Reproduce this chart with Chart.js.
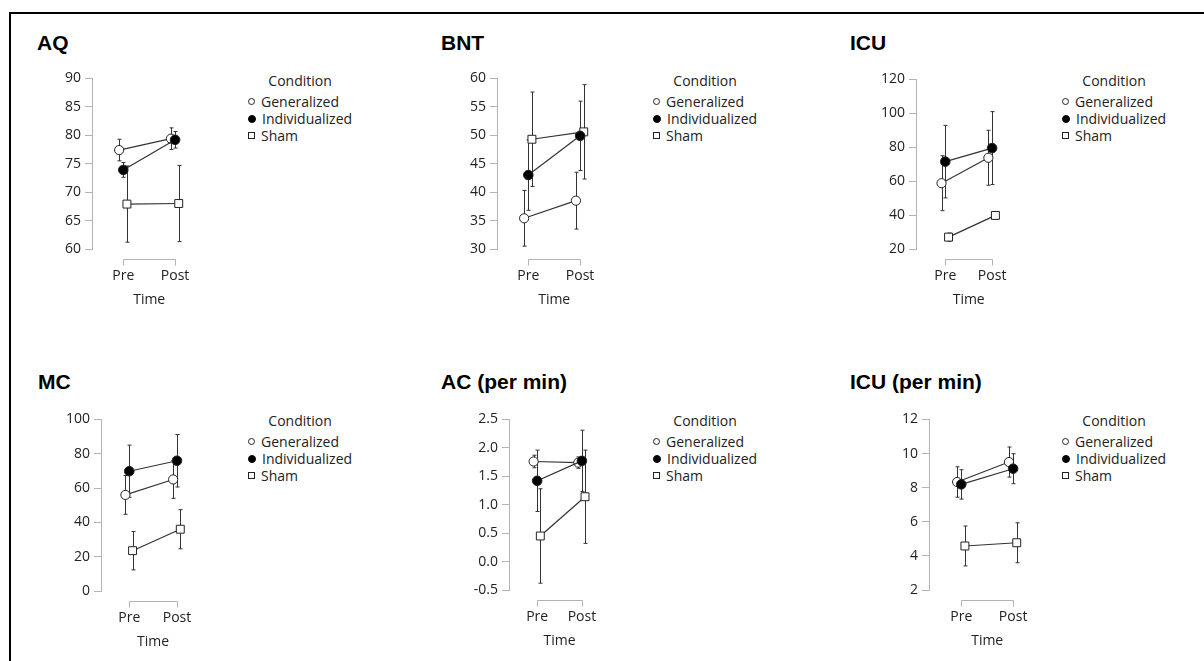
<!DOCTYPE html>
<html lang="en">
<head>
<meta charset="UTF-8">
<title>Condition by Time</title>
<script src="https://cdn.jsdelivr.net/npm/chart.js"></script>
<style>
    html, body {
        margin: 0;
        padding: 0;
        width: 1204px;
        height: 661px;
        overflow: hidden;
        background: #fff;
        font-family: 'Open Sans', sans-serif;
        color: #222;
    }
    .frame {
        position: absolute;
        left: 9px;
        top: 12px;
        width: 1400px;
        height: 900px;
        border-left: 2px solid #000;
        border-top: 2px solid #000;
    }
    .panel { position: absolute; }
    .ptitle {
        position: absolute;
        font: bold 21px 'Liberation Sans', Arial, sans-serif;
        line-height: 21px;
        color: #000;
        white-space: nowrap;
    }
    .legend {
        position: absolute;
        font-size: 14px;
        line-height: 17px;
        color: #222;
        white-space: nowrap;
    }
    .legend .ttl { text-align: center; margin-bottom: 4px; }
    .legend .row { display: flex; align-items: center; height: 17px; }
    .legend .mk {
        width: 7px;
        height: 7px;
        box-sizing: border-box;
        border: 1px solid #222;
        background: #fff;
        margin-right: 6px;
    }
    .legend .circ { border-radius: 50%; }
    .legend .fill { background: #000; border-color: #000; width: 8px; height: 8px; }
</style>
</head>
<body>
<div class="frame"></div>

<script>
    // ---- data ----
    const timeLabels = ["Pre", "Post"];
    const conditions = ["Generalized", "Individualized", "Sham"];

    // means / error half-widths per condition, order: Generalized, Individualized, Sham
    const aqMeans = [[77.4, 79.4], [73.9, 79.2], [67.9, 68.0]];
    const aqErrs  = [[1.9, 1.9], [1.3, 1.45], [6.7, 6.7]];
    const aqTicks = [60, 65, 70, 75, 80, 85, 90];

    const bntMeans = [[35.4, 38.5], [43.0, 49.9], [49.3, 50.6]];
    const bntErrs  = [[4.9, 5.0], [6.2, 6.1], [8.3, 8.3]];
    const bntTicks = [30, 35, 40, 45, 50, 55, 60];

    const icuMeans = [[58.8, 73.8], [71.5, 79.5], [27.0, 39.8]];
    const icuErrs  = [[16.2, 16.2], [21.4, 21.5], [2.4, 2.3]];
    const icuTicks = [20, 40, 60, 80, 100, 120];

    const mcMeans = [[56.0, 65.0], [69.8, 75.9], [23.5, 36.0]];
    const mcErrs  = [[11.3, 11.0], [15.2, 15.3], [11.2, 11.4]];
    const mcTicks = [0, 20, 40, 60, 80, 100];

    const acMeans = [[1.76, 1.74], [1.42, 1.77], [0.45, 1.14]];
    const acErrs  = [[0.11, 0.10], [0.54, 0.54], [0.83, 0.82]];
    const acTicks = [-0.5, 0, 0.5, 1.0, 1.5, 2.0, 2.5];

    const icupmMeans = [[8.33, 9.50], [8.19, 9.11], [4.58, 4.77]];
    const icupmErrs  = [[0.89, 0.88], [0.86, 0.88], [1.17, 1.17]];
    const icupmTicks = [2, 4, 6, 8, 10, 12];

    const panels = [
        { title: "AQ", means: aqMeans, errs: aqErrs, ticks: aqTicks, dec: 0 },
        { title: "BNT", means: bntMeans, errs: bntErrs, ticks: bntTicks, dec: 0 },
        { title: "ICU", means: icuMeans, errs: icuErrs, ticks: icuTicks, dec: 0 },
        { title: "MC", means: mcMeans, errs: mcErrs, ticks: mcTicks, dec: 0 },
        { title: "AC (per min)", means: acMeans, errs: acErrs, ticks: acTicks, dec: 1 },
        { title: "ICU (per min)", means: icupmMeans, errs: icupmErrs, ticks: icupmTicks, dec: 0 }
    ];

    // ---- layout (pixels in the page) ----
    const layout = [
        { axisX: 92,  preX: 124, postX: 177,  yTop: 78,  yBot: 249, titleX: 37,  titleY: 32,  legX: 248, legY: 72 },
        { axisX: 497, preX: 529, postX: 582,  yTop: 78,  yBot: 249, titleX: 441, titleY: 32,  legX: 653, legY: 72 },
        { axisX: 916, preX: 946, postX: 994,  yTop: 79,  yBot: 249, titleX: 850, titleY: 32,  legX: 1062, legY: 72 },
        { axisX: 101, preX: 130, postX: 179,  yTop: 419, yBot: 591, titleX: 38,  titleY: 371, legX: 248, legY: 412 },
        { axisX: 509, preX: 538, postX: 584,  yTop: 419, yBot: 590, titleX: 441, titleY: 371, legX: 653, legY: 412 },
        { axisX: 929, preX: 962, postX: 1015, yTop: 419, yBot: 590, titleX: 850, titleY: 371, legX: 1062, legY: 412 }
    ];

    const Y_BOX = 60;      // room for y tick labels
    const X_BOX = 62;      // room for Pre/Post + Time
    const PAD_T = 12;
    const PAD_R = 4;
    const DODGE = [-0.08, 0, 0.07];
    const AXIS_GREY = "#b3b3b3";
    const INK = "#222";

    const pointStyles = [
        { pointStyle: "circle", pointBackgroundColor: "#fff", pointRadius: 4.6 },
        { pointStyle: "circle", pointBackgroundColor: "#000", pointRadius: 4.8 },
        { pointStyle: "rect", pointBackgroundColor: "#fff", pointRadius: 5.6 }
    ];

    Chart.defaults.font.family = "'Open Sans', sans-serif";
    Chart.defaults.font.size = 14;
    Chart.defaults.color = INK;

    // vertical error bars with small caps, drawn under the points
    const errorBars = {
        id: "errorBars",
        beforeDatasetsDraw(chart) {
            const { ctx, scales: { x, y } } = chart;
            ctx.save();
            ctx.strokeStyle = "#333";
            ctx.lineWidth = 1;
            chart.data.datasets.forEach(ds => {
                ds.data.forEach(p => {
                    const px = Math.round(x.getPixelForValue(p.x)) + 0.5;
                    const top = y.getPixelForValue(p.y + p.err);
                    const bot = y.getPixelForValue(p.y - p.err);
                    ctx.beginPath();
                    ctx.moveTo(px, top);
                    ctx.lineTo(px, bot);
                    ctx.moveTo(px - 2, top);
                    ctx.lineTo(px + 2, top);
                    ctx.moveTo(px - 2, bot);
                    ctx.lineTo(px + 2, bot);
                    ctx.stroke();
                });
            });
            ctx.restore();
        }
    };

    // jamovi-style x axis: a bracket only from the first to the last level
    const timeAxis = {
        id: "timeAxis",
        afterDraw(chart) {
            const { ctx, chartArea, scales: { x } } = chart;
            const y0 = Math.round(chartArea.bottom + 10) + 0.5;
            const x0 = Math.round(x.getPixelForValue(0)) + 0.5;
            const x1 = Math.round(x.getPixelForValue(timeLabels.length - 1)) + 0.5;
            ctx.save();
            ctx.strokeStyle = AXIS_GREY;
            ctx.lineWidth = 1;
            ctx.beginPath();
            ctx.moveTo(x0, y0 + 6);
            ctx.lineTo(x0, y0);
            ctx.lineTo(x1, y0);
            ctx.lineTo(x1, y0 + 6);
            ctx.stroke();
            ctx.restore();
        }
    };

    function addTitle(text, g) {
        const t = document.createElement("div");
        t.className = "ptitle";
        t.style.left = g.titleX + "px";
        t.style.top = g.titleY + "px";
        t.textContent = text;
        document.body.appendChild(t);
    }

    function addLegend(g) {
        const lg = document.createElement("div");
        lg.className = "legend";
        lg.style.left = g.legX + "px";
        lg.style.top = g.legY + "px";
        const ttl = document.createElement("div");
        ttl.className = "ttl";
        ttl.textContent = "Condition";
        lg.appendChild(ttl);
        const marks = ["mk circ", "mk circ fill", "mk"];
        conditions.forEach((c, j) => {
            const row = document.createElement("div");
            row.className = "row";
            const mk = document.createElement("span");
            mk.className = marks[j];
            row.appendChild(mk);
            row.appendChild(document.createTextNode(c));
            lg.appendChild(row);
        });
        document.body.appendChild(lg);
    }

    function makePanel(p, g) {
        const span = g.postX - g.preX;
        const a = (g.preX - g.axisX) / span;
        const chartW = span * (1 + 2 * a);

        const box = document.createElement("div");
        box.className = "panel";
        box.style.left = (g.axisX - Y_BOX) + "px";
        box.style.top = (g.yTop - PAD_T) + "px";
        box.style.width = (Y_BOX + chartW + PAD_R) + "px";
        box.style.height = (PAD_T + g.yBot - g.yTop + X_BOX) + "px";
        const cv = document.createElement("canvas");
        box.appendChild(cv);
        document.body.appendChild(box);

        const datasets = conditions.map((c, j) => Object.assign({
            label: c,
            data: timeLabels.map((t, i) => ({ x: i + DODGE[j], y: p.means[j][i], err: p.errs[j][i] })),
            borderColor: "#333",
            borderWidth: 1.2,
            pointBorderColor: INK,
            pointBorderWidth: 1,
            order: j === 1 ? 0 : (j === 0 ? 1 : 2)
        }, pointStyles[j]));

        new Chart(cv, {
            type: "line",
            data: { datasets },
            plugins: [errorBars, timeAxis],
            options: {
                responsive: true,
                maintainAspectRatio: false,
                animation: false,
                events: [],
                layout: { padding: { left: 0, top: PAD_T, right: PAD_R, bottom: 0 } },
                plugins: {
                    legend: { display: false },
                    title: { display: false },
                    tooltip: { enabled: false }
                },
                scales: {
                    x: {
                        type: "linear",
                        min: -a,
                        max: timeLabels.length - 1 + a,
                        afterBuildTicks(s) { s.ticks = timeLabels.map((t, i) => ({ value: i })); },
                        afterFit(s) { s.height = X_BOX; },
                        ticks: {
                            padding: 19,
                            maxRotation: 0,
                            autoSkip: false,
                            callback: (v, i) => timeLabels[i]
                        },
                        grid: { display: false, drawTicks: false },
                        border: { display: false },
                        title: { display: true, text: "Time", padding: { top: 0, bottom: 3 } }
                    },
                    y: {
                        type: "linear",
                        min: p.ticks[0],
                        max: p.ticks[p.ticks.length - 1],
                        afterBuildTicks(s) { s.ticks = p.ticks.map(v => ({ value: v })); },
                        afterFit(s) { s.width = Y_BOX; },
                        ticks: {
                            padding: 4,
                            callback: v => v.toFixed(p.dec)
                        },
                        grid: {
                            display: true,
                            drawOnChartArea: false,
                            drawTicks: true,
                            tickLength: 7,
                            color: AXIS_GREY
                        },
                        border: { display: true, color: AXIS_GREY, width: 1 }
                    }
                }
            }
        });
    }

    panels.forEach((p, k) => {
        const g = layout[k];
        addTitle(p.title, g);
        addLegend(g);
        makePanel(p, g);
    });
</script>
</body>
</html>
